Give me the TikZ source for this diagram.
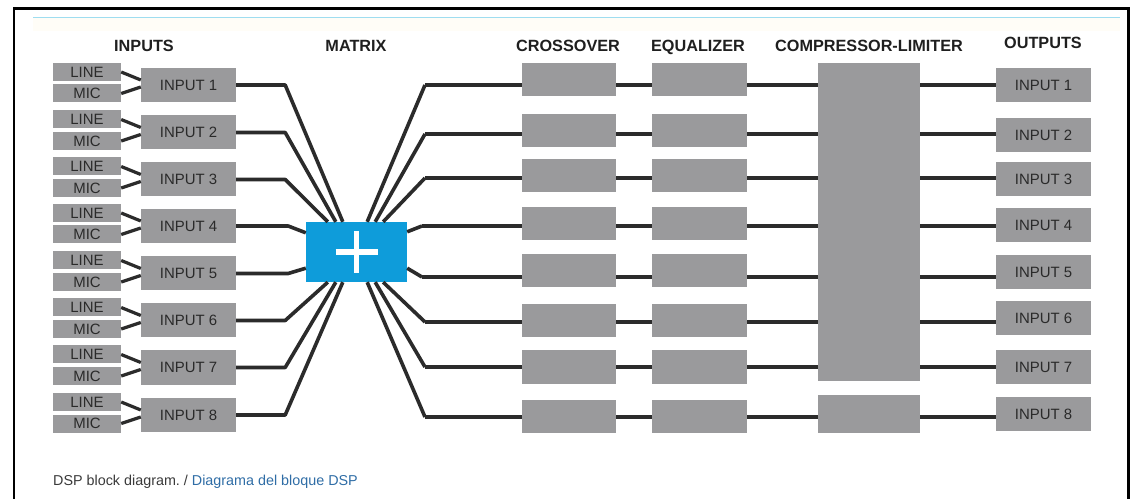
\documentclass[tikz,border=0pt]{standalone}
\usepackage{fontspec}
\setmainfont{Liberation Sans}
\usetikzlibrary{calc}
\definecolor{boxgray}{HTML}{9A9A9C}
\definecolor{wirec}{HTML}{2B2B2B}
\definecolor{mtxblue}{HTML}{0E9CDA}
\definecolor{boxtxt}{HTML}{2A2A2A}
\definecolor{captxt}{HTML}{3A3A3A}
\definecolor{capblue}{HTML}{2F6DA6}
\definecolor{rulecyan}{HTML}{9EDDF0}
\definecolor{bandcream}{HTML}{FFFDF7}
\newcommand\boxfnt{\fontsize{15}{17}\selectfont}
\newcommand\headfnt{\fontsize{16.3}{18}\selectfont\bfseries}
\newcommand\capfnt{\fontsize{14.4}{16}\selectfont}
\frenchspacing
\begin{document}
\begin{tikzpicture}[x=1bp,y=-1bp,
  gbox/.style={fill=boxgray, draw=none, inner sep=0pt, font=\boxfnt, text=boxtxt},
  wire/.style={draw=wirec, line width=3.6bp, line join=round},
  thinwire/.style={draw=wirec, line width=3.2bp},
  head/.style={font=\headfnt, text=black!88, anchor=base, inner sep=0pt}]
\useasboundingbox (0,0) rectangle (1131,499);
\fill[white] (0,0) rectangle (1131,499);
% page frame
\fill[bandcream] (33,18) rectangle (1120,31);
\draw[rulecyan, line width=1bp] (33,17.3) -- (1120,17.3);
\draw[black, line width=2.7bp] (14,499) -- (14,8.3) -- (1128.5,8.3) -- (1128.5,499);
% headers
\node[head] (hin) at (144,52) {INPUTS};
\node[head] (hmx) at (356,52) {MATRIX};
\node[head] (hxo) at (568,52) {CROSSOVER};
\node[head] (heq) at (698,52) {EQUALIZER};
\node[head] (hcl) at (869,52) {COMPRESSOR-LIMITER};
\node[head] (hout) at (1043,48.5) {OUTPUTS};
% inputs
\foreach \i/\c in {1/85,2/132.5,3/179.5,4/226,5/273.5,6/320.5,7/367.5,8/415}{
  \node[gbox, minimum width=95bp, minimum height=34bp] (in\i) at (188.5,\c) {INPUT \i};
  \node[gbox, minimum width=68bp, minimum height=18bp] (ln\i) at (87,{\c-13}) {LINE};
  \node[gbox, minimum width=68bp, minimum height=18bp] (mc\i) at (87,{\c+8.5}) {MIC};
  \draw[thinwire] (ln\i.east) -- ($(in\i.west)+(0,-5)$);
  \draw[thinwire] (mc\i.east) -- ($(in\i.west)+(0,2)$);
}
% matrix
\node[fill=mtxblue, inner sep=0pt, minimum width=101bp, minimum height=60bp] (mx) at (356.5,252) {};
\draw[white, line width=5.5bp] ($(mx.center)+(-21,0)$) -- ($(mx.center)+(21,0)$);
\draw[white, line width=5.5bp] ($(mx.center)+(0,-21)$) -- ($(mx.center)+(0,21)$);
% left side into matrix
\draw[wire] (in1.east) -- ++(49,0) -- ($(mx.north west)+(37,0)$);
\draw[wire] (in2.east) -- ++(49,0) -- ($(mx.north west)+(30,0)$);
\draw[wire] (in3.east) -- ++(49,0) -- ($(mx.north west)+(22,0)$);
\draw[wire] (in4.east) -- ++(52,0) -- ($(mx.north west)+(0,11)$);
\draw[wire] (in5.east) -- ++(52,0) -- ($(mx.south west)+(0,-14)$);
\draw[wire] (in6.east) -- ++(49,0) -- ($(mx.south west)+(22,0)$);
\draw[wire] (in7.east) -- ++(49,0) -- ($(mx.south west)+(30,0)$);
\draw[wire] (in8.east) -- ++(49,0) -- ($(mx.south west)+(37,0)$);
% bends on the right of the matrix
\coordinate (b1) at (425,85);
\coordinate (b2) at (425,134);
\coordinate (b3) at (425,178);
\coordinate (b4) at (422,226);
\coordinate (b5) at (422,277);
\coordinate (b6) at (425,322);
\coordinate (b7) at (425,367);
\coordinate (b8) at (425,417);
\draw[wire] ($(mx.north east)+(-40,0)$) -- (b1);
\draw[wire] ($(mx.north east)+(-32,0)$) -- (b2);
\draw[wire] ($(mx.north east)+(-24,0)$) -- (b3);
\draw[wire] ($(mx.north east)+(0,10)$) -- (b4);
\draw[wire] ($(mx.south east)+(0,-14)$) -- (b5);
\draw[wire] ($(mx.south east)+(-24,0)$) -- (b6);
\draw[wire] ($(mx.south east)+(-32,0)$) -- (b7);
\draw[wire] ($(mx.south east)+(-40,0)$) -- (b8);
% compressor-limiter
\node[gbox, minimum width=102bp, minimum height=318bp] (cl) at (869,222) {};
\node[gbox, minimum width=102bp, minimum height=38bp] (cl2) at (869,414) {};
% crossover, equalizer, outputs
\foreach \i/\bc/\oc in {1/80/85,2/131/135,3/176/179,4/223.5/225,5/270.5/272,6/320.5/318.5,7/367/367,8/416.5/414}{
  \node[gbox, minimum width=94bp, minimum height=33bp] (xo\i) at (569,\bc) {};
  \node[gbox, minimum width=95bp, minimum height=33bp] (eq\i) at (699.5,\bc) {};
  \node[gbox, minimum width=95bp, minimum height=34bp] (out\i) at (1043.5,\oc) {INPUT \i};
  \draw[wire] (b\i) -- (xo\i.west |- b\i);
  \draw[wire] (xo\i.east |- b\i) -- (eq\i.west |- b\i);
}
\foreach \i in {1,...,7}{
  \draw[wire] (eq\i.east |- b\i) -- (cl.west |- b\i);
  \draw[wire] (cl.east |- b\i) -- (out\i.west |- b\i);
}
\draw[wire] (eq8.east |- b8) -- (cl2.west |- b8);
\draw[wire] (cl2.east |- b8) -- (out8.west |- b8);
% caption
\node[anchor=base west, inner sep=0pt, font=\capfnt] (cap) at (53,485)
  {\textcolor{captxt}{DSP block diagram. / }\textcolor{capblue}{Diagrama del bloque DSP}};
\end{tikzpicture}
\end{document}
